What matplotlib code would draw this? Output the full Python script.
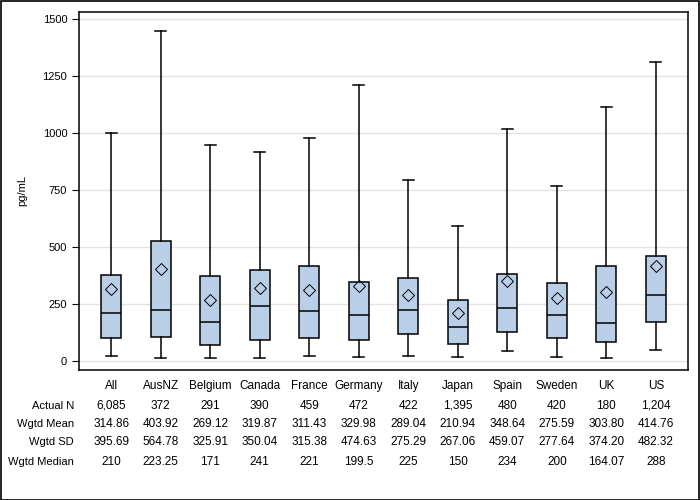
import matplotlib
matplotlib.use("Agg")
import matplotlib.pyplot as plt
import matplotlib.transforms as mtransforms
from matplotlib.patches import Rectangle

plt.rcParams['font.family'] = ['Liberation Sans', 'DejaVu Sans']

# データ
categories = ["All", "AusNZ", "Belgium", "Canada", "France", "Germany",
              "Italy", "Japan", "Spain", "Sweden", "UK", "US"]
whisk_lo = [20, 12, 12, 12, 20, 16, 20, 16, 42, 16, 12, 47]
q1 = [100, 104, 69, 91, 100, 91, 117, 73, 126, 100, 82, 170]
median = [210, 223.25, 171, 241, 221, 199.5, 225, 150, 234, 200, 164.07, 288]
q3 = [376, 526, 371, 398, 415, 345, 363, 266, 380, 341, 415, 459]
whisk_hi = [1000, 1448, 948, 917, 980, 1212, 795, 592, 1018, 768, 1115, 1310]
mean = [314.86, 403.92, 269.12, 319.87, 311.43, 329.98, 289.04, 210.94,
        348.64, 275.59, 303.80, 414.76]

row_labels = ["Actual N", "Wgtd Mean", "Wgtd SD", "Wgtd Median"]
actual_n = ["6,085", "372", "291", "390", "459", "472", "422", "1,395",
            "480", "420", "180", "1,204"]
wgtd_mean = ["314.86", "403.92", "269.12", "319.87", "311.43", "329.98",
             "289.04", "210.94", "348.64", "275.59", "303.80", "414.76"]
wgtd_sd = ["395.69", "564.78", "325.91", "350.04", "315.38", "474.63",
           "275.29", "267.06", "459.07", "277.64", "374.20", "482.32"]
wgtd_median = ["210", "223.25", "171", "241", "221", "199.5", "225", "150",
               "234", "200", "164.07", "288"]

fig = plt.figure(figsize=(7, 5), dpi=100)
ax = fig.add_axes([0.1129, 0.26, 0.87, 0.7166])

stats = []
for i in range(len(categories)):
    stats.append({"whislo": whisk_lo[i], "q1": q1[i], "med": median[i],
                  "q3": q3[i], "whishi": whisk_hi[i], "mean": mean[i],
                  "label": categories[i]})

positions = list(range(len(categories)))
ax.bxp(stats, positions=positions, widths=0.41, showmeans=True,
       showfliers=False, patch_artist=True,
       boxprops=dict(facecolor="#B8CFE7", edgecolor="black", linewidth=1.1),
       medianprops=dict(color="black", linewidth=1.1),
       whiskerprops=dict(color="black", linewidth=1.1),
       capprops=dict(color="black", linewidth=1.1),
       capwidths=0.22,
       meanprops=dict(marker="D", markerfacecolor="none",
                      markeredgecolor="black", markersize=6.5,
                      markeredgewidth=0.7))

ax.set_xlim(-0.65, len(categories) - 0.35)
ax.set_ylim(-40, 1532)
ax.set_yticks([0, 250, 500, 750, 1000, 1250, 1500])
ax.tick_params(axis="y", labelsize=8, length=5, width=0.8)
ax.tick_params(axis="x", labelsize=8.5, length=0, pad=7)
ax.set_xticks(positions)
ax.set_xticklabels(categories)
ax.yaxis.grid(True, color="#E4E4E4", linewidth=1)
ax.set_axisbelow(True)
for s in ax.spines.values():
    s.set_linewidth(1.1)
ax.set_ylabel("pg/mL", fontsize=8, labelpad=11)

# 表
trans = mtransforms.blended_transform_factory(ax.transData, ax.transAxes)
rows = [actual_n, wgtd_mean, wgtd_sd, wgtd_median]
row_y = [-0.0996, -0.1516, -0.2018, -0.256]
for r in range(len(rows)):
    fig.text(74 / 700, 0.26 + row_y[r] * 0.7166, row_labels[r], fontsize=8,
             ha="right", va="center")
    for i in range(len(categories)):
        ax.text(positions[i], row_y[r], rows[r][i], transform=trans,
                fontsize=8.5, ha="center", va="center")

fig.patches.append(Rectangle((0.001, 0.001), 0.997, 0.997, transform=fig.transFigure,
                             fill=False, edgecolor="black", linewidth=1.2))

fig.savefig("out.png", dpi=100)
